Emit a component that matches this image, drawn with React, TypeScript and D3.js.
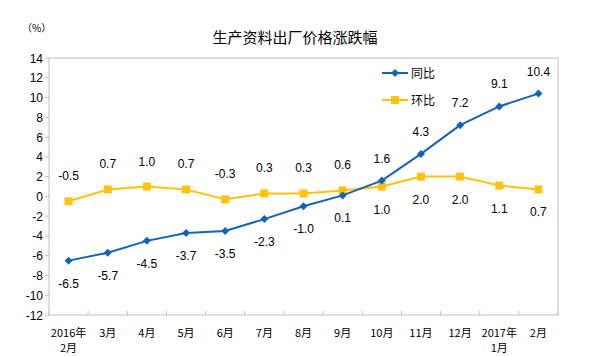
import React from "react";
import * as d3 from "d3";

const categories = ["2016年\n2月", "3月", "4月", "5月", "6月", "7月", "8月", "9月", "10月", "11月", "12月", "2017年\n1月", "2月"];
const yoy = [-6.5, -5.7, -4.5, -3.7, -3.5, -2.3, -1.0, 0.1, 1.6, 4.3, 7.2, 9.1, 10.4];
const mom = [-0.5, 0.7, 1.0, 0.7, -0.3, 0.3, 0.3, 0.6, 1.0, 2.0, 2.0, 1.1, 0.7];
const yTicks = [14, 12, 10, 8, 6, 4, 2, 0, -2, -4, -6, -8, -10, -12];
// label placement: 1 above, -1 below
const yoyPos = [-1, -1, -1, -1, -1, -1, -1, -1, 1, 1, 1, 1, 1];
const momPos = [1, 1, 1, 1, 1, 1, 1, 1, -1, -1, -1, -1, -1];

const BLUE = "#1563B8";
const YELLOW = "#FFC20E";

export default function App() {
  const W = 595, H = 356;
  const left = 49, right = 558, top = 58, bottom = 315;
  const x = d3.scaleBand<number>().domain(d3.range(categories.length)).range([left, right]);
  const y = d3.scaleLinear().domain([-12, 14]).range([bottom, top]);
  const cx = (i: number) => (x(i) as number) + x.bandwidth() / 2;
  const line = d3.line<number>().x((_, i) => cx(i)).y((d) => y(d));
  const font = "'Liberation Sans', Arial, sans-serif";
  const cjk = "'Noto Sans CJK SC', sans-serif";

  return (
    <svg width={W} height={H} style={{ position: "absolute", left: 0, top: 0, background: "#fff" }}>
      <text x={295} y={43} textAnchor="middle" fontFamily={cjk} fontSize={15} fill="#000">生产资料出厂价格涨跌幅</text>
      <text x={22} y={32} fontFamily={cjk} fontSize={10} fill="#000">（%）</text>
      <rect x={left} y={top} width={right - left} height={bottom - top} fill="none" stroke="#BFBFBF" strokeWidth={1} />
      {yTicks.map((t) => (
        <g key={t}>
          <line x1={left - 4} x2={left} y1={y(t)} y2={y(t)} stroke="#BFBFBF" />
          <text x={left - 6} y={y(t) + 4.5} textAnchor="end" fontFamily={font} fontSize={12} fill="#000">{t}</text>
        </g>
      ))}
      {d3.range(categories.length + 1).map((i) => {
        const xx = left + i * x.bandwidth();
        return <line key={i} x1={xx} x2={xx} y1={bottom} y2={bottom - 4} stroke="#BFBFBF" />;
      })}
      {categories.map((c, i) => (
        <text key={c} x={cx(i)} y={337} textAnchor="middle" fontFamily={cjk} fontSize={11} fill="#000">
          {c.split("\n").map((s, k) => (
            <tspan key={k} x={cx(i)} dy={k === 0 ? 0 : 15}>{s}</tspan>
          ))}
        </text>
      ))}
      <path d={line(mom) || ""} fill="none" stroke={YELLOW} strokeWidth={2} />
      {mom.map((v, i) => (
        <rect key={i} x={cx(i) - 4} y={y(v) - 4} width={8} height={8} fill={YELLOW} />
      ))}
      <path d={line(yoy) || ""} fill="none" stroke={BLUE} strokeWidth={2} />
      {yoy.map((v, i) => (
        <path key={i} transform={`translate(${cx(i)},${y(v)})`} d="M0,-4L4,0L0,4L-4,0Z" fill={BLUE} />
      ))}
      {yoy.map((v, i) => (
        <text key={i} x={cx(i)} y={y(v) + (yoyPos[i] > 0 ? -18 : 27)} textAnchor="middle" fontFamily={font} fontSize={12} fill="#000">{v.toFixed(1)}</text>
      ))}
      {mom.map((v, i) => (
        <text key={i} x={cx(i)} y={y(v) + (momPos[i] > 0 ? -21 : 27)} textAnchor="middle" fontFamily={font} fontSize={12} fill="#000">{v.toFixed(1)}</text>
      ))}
      <line x1={382} x2={408} y1={73} y2={73} stroke={BLUE} strokeWidth={2} />
      <path transform="translate(395,73)" d="M0,-4L4,0L0,4L-4,0Z" fill={BLUE} />
      <text x={411} y={78} fontFamily={cjk} fontSize={12} fill="#000">同比</text>
      <line x1={382} x2={408} y1={100} y2={100} stroke={YELLOW} strokeWidth={2} />
      <rect x={391} y={96} width={8} height={8} fill={YELLOW} />
      <text x={411} y={105} fontFamily={cjk} fontSize={12} fill="#000">环比</text>
    </svg>
  );
}
